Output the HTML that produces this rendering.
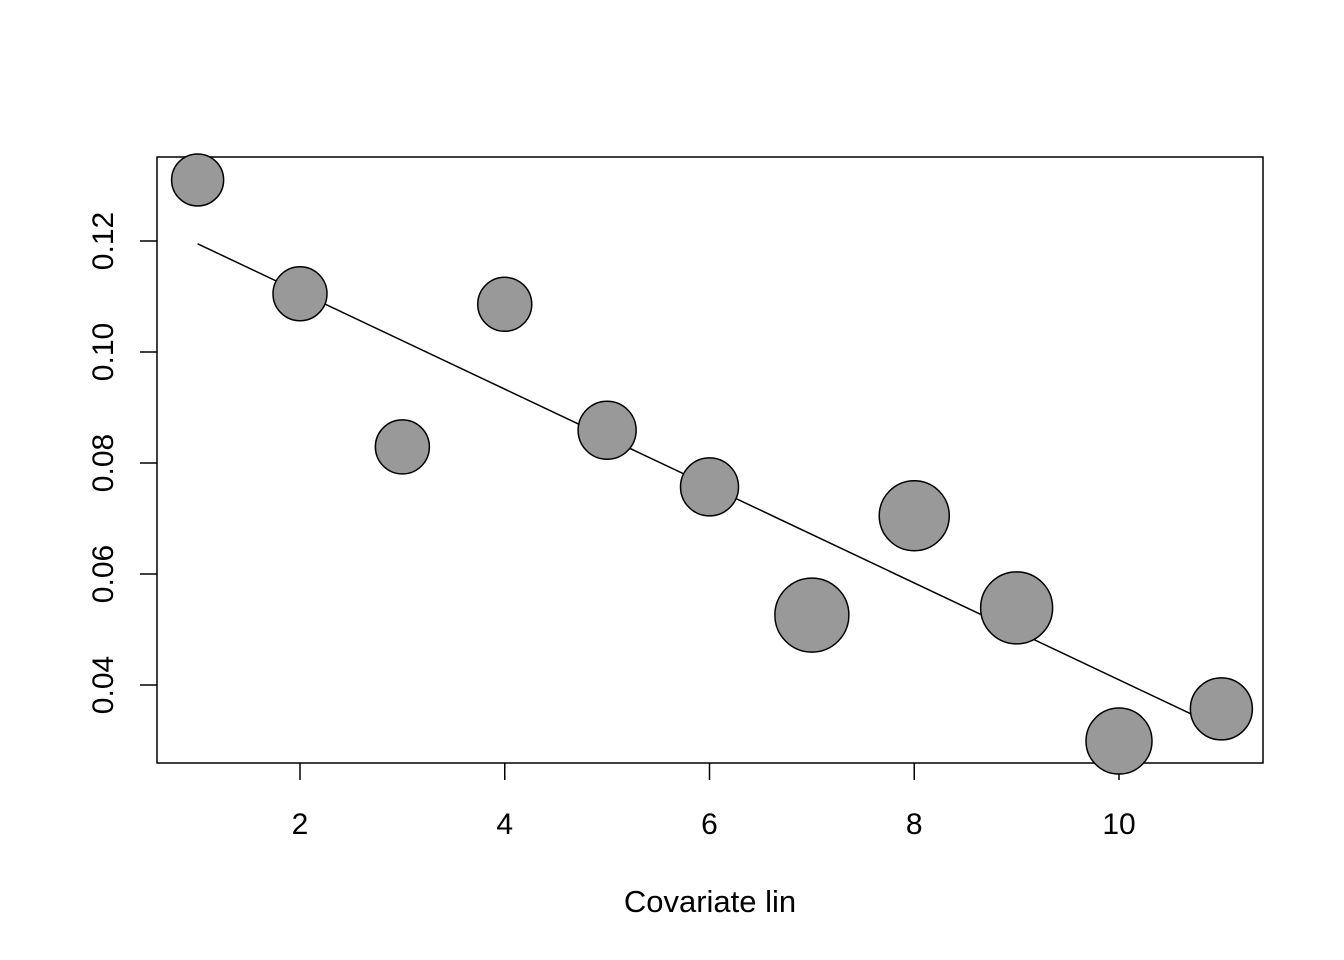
<!DOCTYPE html>
<html><head><meta charset="utf-8"><style>
body{margin:0;background:#fff;}
svg{display:block;font-family:"Liberation Sans",Arial,sans-serif;}
</style></head><body>
<svg id="chart" width="1344" height="960">
<rect x="157" y="157" width="1106" height="606" fill="none" stroke="#000" stroke-width="1.5"/>
<text x="710" y="912" text-anchor="middle" font-size="31">Covariate lin</text>
</svg>
<script>
const xVals=[1,2,3,4,5,6,7,8,9,10,11];
const yVals=[0.131,0.1105,0.0829,0.1086,0.0859,0.0757,0.0526,0.0705,0.0539,0.0299,0.0357];
const sizes=[26,27,27,27,29,29,37,35,36,33,31];
const fitStart=[1,0.1195];
const fitEnd=[11,0.0322];
const xTicks=[2,4,6,8,10];
const yTicks=[0.04,0.06,0.08,0.10,0.12];
const yTickLabels=["0.04","0.06","0.08","0.10","0.12"];

const NS="http://www.w3.org/2000/svg";
const svg=document.getElementById('chart');
const sx=v=>300+(v-2)*102.375;
const sy=v=>241+(0.12-v)/0.02*111;
function mk(t,a){const e=document.createElementNS(NS,t);for(const k in a)e.setAttribute(k,a[k]);svg.appendChild(e);return e;}

xTicks.forEach(t=>{
  const l=mk('line',{x1:sx(t),x2:sx(t),y1:763,y2:780,stroke:'#000','stroke-width':1.5});
  
  
  const tx=mk('text',{x:sx(t),y:834,'text-anchor':'middle','font-size':30});
  tx.textContent=t;
  
  
});
yTicks.forEach((t,i)=>{
  const l=mk('line',{x1:140,x2:157,y1:sy(t),y2:sy(t),stroke:'#000','stroke-width':1.5});
  
  
  const tx=mk('text',{x:0,y:0,'text-anchor':'middle','font-size':30,transform:`translate(113,${sy(t)}) rotate(-90)`});
  tx.textContent=yTickLabels[i];
  
  
});
const fl=mk('line',{x1:sx(fitStart[0]),y1:sy(fitStart[1]),x2:sx(fitEnd[0]),y2:sy(fitEnd[1]),stroke:'#000','stroke-width':1.5});


xVals.forEach((x,i)=>{
  const c=mk('circle',{cx:sx(x),cy:sy(yVals[i]),r:sizes[i],fill:'#999999',stroke:'#000','stroke-width':1.5});
  
  
});
</script>
</body></html>
